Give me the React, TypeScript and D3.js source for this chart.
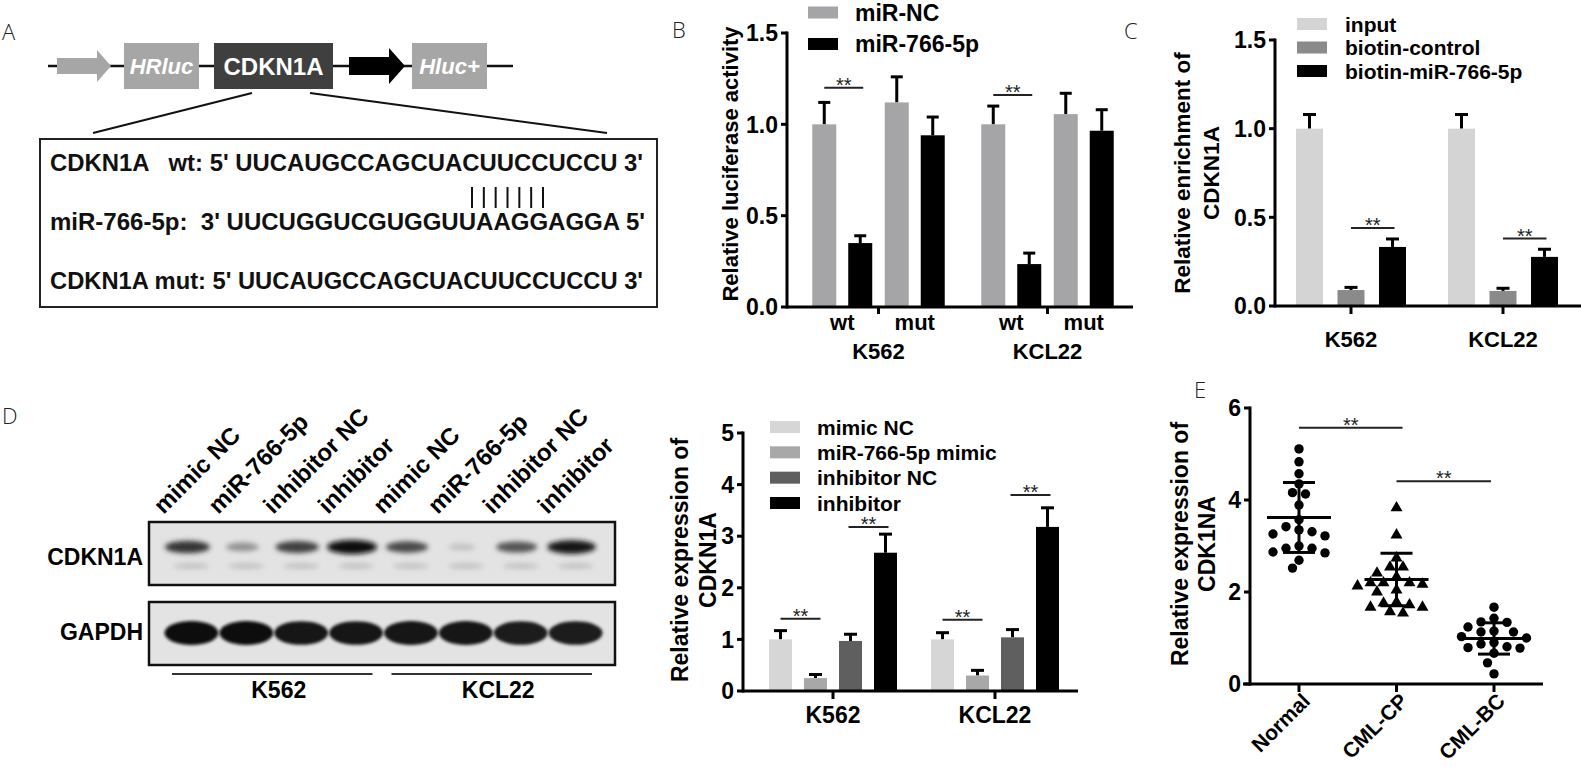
import React from "react";
import * as d3 from "d3";

const FONT = "'Liberation Sans', Arial, Helvetica, sans-serif";
const NARROW = "'Liberation Sans Narrow', 'Arial Narrow', 'Liberation Sans', Arial, sans-serif";
const PANEL_FONT = "'Open Sans', 'DejaVu Sans', sans-serif";

// ---------- A: reporter construct + sequences
const seqLines = [
  "CDKN1A   wt: 5' UUCAUGCCAGCUACUUCCUCCU 3'",
  "miR-766-5p:  3' UUCUGGUCGUGGUUAAGGAGGA 5'",
  "CDKN1A mut: 5' UUCAUGCCAGCUACUUCCUCCU 3'",
];
const seedPairs = 7;

// ---------- B: luciferase reporter
const lucCells = ["K562", "KCL22"];
const lucSites = ["wt", "mut"];
const lucSeries = ["miR-NC", "miR-766-5p"];
// order: K562 wt, K562 mut, KCL22 wt, KCL22 mut
const lucNC = [1.0, 1.12, 1.0, 1.056];
const lucNCErr = [0.12, 0.14, 0.1, 0.114];
const lucMiR = [0.35, 0.94, 0.235, 0.965];
const lucMiRErr = [0.04, 0.1, 0.06, 0.115];
const lucSigLevel = [1.2, 1.16];
const lucTicks = [0, 0.5, 1.0, 1.5];

// ---------- C: biotin pull-down
const pullCells = ["K562", "KCL22"];
const pullSeries = ["input", "biotin-control", "biotin-miR-766-5p"];
const pullInput = [1.0, 1.0];
const pullInputErr = [0.08, 0.08];
const pullControl = [0.09, 0.085];
const pullControlErr = [0.015, 0.015];
const pullMiR = [0.333, 0.277];
const pullMiRErr = [0.045, 0.043];
const pullSigLevel = [0.44, 0.38];
const pullTicks = [0, 0.5, 1.0, 1.5];

// ---------- D: western blot + qPCR
const blotLanes = ["mimic NC", "miR-766-5p", "inhibitor NC", "inhibitor", "mimic NC", "miR-766-5p", "inhibitor NC", "inhibitor"];
const blotCells = ["K562", "KCL22"];
const cdkn1aBand = [0.8, 0.35, 0.75, 1.0, 0.7, 0.12, 0.65, 0.95];
const gapdhBand = [1, 1, 0.95, 0.95, 0.97, 0.97, 0.93, 0.93];

const qCells = ["K562", "KCL22"];
const qSeries = ["mimic NC", "miR-766-5p mimic", "inhibitor NC", "inhibitor"];
const qMimicNC = [1.0, 1.0];
const qMimicNCErr = [0.17, 0.13];
const qMiRMimic = [0.25, 0.3];
const qMiRMimicErr = [0.07, 0.1];
const qInhNC = [0.97, 1.04];
const qInhNCErr = [0.13, 0.15];
const qInh = [2.68, 3.18];
const qInhErr = [0.36, 0.37];
const qSigMimic = [1.4, 1.38];
const qSigInh = [3.18, 3.8];
const qTicks = [0, 1, 2, 3, 4, 5];

// ---------- E: clinical samples
const clinGroups = ["Normal", "CML-CP", "CML-BC"];
const normalVals = [5.11, 4.83, 4.57, 4.35, 4.16, 4.13, 3.89, 3.57, 3.42, 3.31, 3.22, 3.26, 3.35, 3.0, 2.95, 2.85, 2.95, 2.87, 2.69, 2.52];
const cpVals = [3.83, 3.24, 2.74, 2.54, 2.54, 2.41, 2.33, 2.2, 2.2, 2.2, 2.17, 2.13, 2.04, 2.0, 1.78, 1.76, 1.72, 1.67, 1.67, 1.57, 1.54];
const bcVals = [1.67, 1.43, 1.35, 1.34, 1.24, 1.15, 1.13, 1.13, 1.03, 1.0, 0.9, 0.87, 0.81, 0.79, 0.78, 0.67, 0.46, 0.22];
const clinMean = [3.62, 2.27, 0.99];
const clinSD = [0.76, 0.57, 0.34];
const clinSig = [5.57, 4.41];
const clinTicks = [0, 2, 4, 6];

const BLACK = "#000";

function PanelLabel({ x, y, t }: { x: number; y: number; t: string }) {
  return (
    <text x={x} y={y} fontFamily={PANEL_FONT} fontWeight={300} fontSize={22} fill="#222">
      {t}
    </text>
  );
}

function Stars({ x1, x2, y }: { x1: number; x2: number; y: number }) {
  return (
    <g>
      <line x1={x1} x2={x2} y1={y} y2={y} stroke="#222" strokeWidth={2} />
      <text x={(x1 + x2) / 2} y={y + 4} textAnchor="middle" fontSize={20} fill="#222">
        **
      </text>
    </g>
  );
}

function ErrBar({ x, y0, y1, w = 12 }: { x: number; y0: number; y1: number; w?: number }) {
  return (
    <g stroke={BLACK} strokeWidth={3}>
      <line x1={x} x2={x} y1={y0} y2={y1} />
      <line x1={x - w / 2} x2={x + w / 2} y1={y1} y2={y1} />
    </g>
  );
}

function YAxis({ y, ticks, x, fmt }: { y: d3.ScaleLinear<number, number>; ticks: number[]; x: number; fmt: (v: number) => string }) {
  const [r0, r1] = y.range();
  return (
    <g>
      <line x1={x} x2={x} y1={r0 + 1.5} y2={r1 - 1.5} stroke={BLACK} strokeWidth={3} />
      {ticks.map((t) => (
        <g key={t}>
          <line x1={x - 6} x2={x} y1={y(t)} y2={y(t)} stroke={BLACK} strokeWidth={3} />
          <text x={x - 9} y={y(t)} dy="0.36em" textAnchor="end" fontWeight="bold" fontSize={23}>
            {fmt(t)}
          </text>
        </g>
      ))}
    </g>
  );
}

function PanelA() {
  const rowY = d3.scalePoint<number>().domain(d3.range(seqLines.length)).range([171, 289]);
  const pairX = d3.scalePoint<number>().domain(d3.range(seedPairs)).range([472, 543]);
  const widths = [593, 595, 593];
  return (
    <g>
      <PanelLabel x={2} y={40} t="A" />
      <line x1={48} x2={513} y1={66} y2={66} stroke="#111" strokeWidth={2.5} />
      <polygon points="57,58 97,58 97,50 111,66 97,82 97,74 57,74" fill="#a6a6a6" />
      <rect x={124} y={43} width={75} height={46} fill="#a6a6a6" />
      <text x={161.5} y={74} textAnchor="middle" fill="#fff" fontWeight="bold" fontStyle="italic" fontSize={22}>
        HRluc
      </text>
      <rect x={214} y={43} width={119} height={46} fill="#3f3f3f" />
      <text x={273.5} y={75} textAnchor="middle" fill="#fff" fontWeight="bold" fontSize={24}>
        CDKN1A
      </text>
      <polygon points="349,57 389,57 389,48 405,66 389,84 389,75 349,75" fill="#000" />
      <rect x={412} y={43} width={75} height={46} fill="#a6a6a6" />
      <text x={449.5} y={74} textAnchor="middle" fill="#fff" fontWeight="bold" fontStyle="italic" fontSize={22}>
        Hluc+
      </text>
      <line x1={252} y1={93} x2={93} y2={133} stroke="#111" strokeWidth={2} />
      <line x1={310} y1={93} x2={607} y2={133} stroke="#111" strokeWidth={2} />
      <rect x={40} y={139} width={617} height={168} fill="#fff" stroke="#222" strokeWidth={2} />
      {seqLines.map((s, i) => (
        <text
          key={i}
          x={50}
          y={rowY(i)}
          fontFamily={NARROW}
          fontWeight="bold"
          fontSize={24}
          textLength={widths[i]}
          lengthAdjust="spacingAndGlyphs"
          style={{ whiteSpace: "pre" }}
          fill="#111"
        >
          {s}
        </text>
      ))}
      {d3.range(seedPairs).map((i) => (
        <line key={i} x1={pairX(i)} x2={pairX(i)} y1={187} y2={208} stroke="#111" strokeWidth={2} />
      ))}
    </g>
  );
}

function PanelB() {
  const y = d3.scaleLinear().domain([0, 1.5]).range([307, 33]);
  const gx = d3.scaleBand().domain(lucCells).range([794, 1132]);
  const sx = d3.scaleBand().domain(lucSites).range([12, gx.bandwidth() - 12]);
  const bx = d3.scaleBand().domain(lucSeries).range([0, sx.bandwidth()]).paddingInner(0.333).paddingOuter(0.174);
  const colors = d3.scaleOrdinal<string>().domain(lucSeries).range(["#a5a5a7", "#000"]);
  const vals = [lucNC, lucMiR];
  const errs = [lucNCErr, lucMiRErr];
  const legendY = d3.scalePoint().domain(lucSeries).range([12.5, 44]);
  return (
    <g>
      <PanelLabel x={672} y={38} t="B" />
      {lucCells.map((c, ci) =>
        lucSites.map((s, si) =>
          lucSeries.map((ser, k) => {
            const idx = ci * 2 + si;
            const x0 = (gx(c) ?? 0) + (sx(s) ?? 0) + (bx(ser) ?? 0);
            const v = vals[k][idx];
            const cx = x0 + bx.bandwidth() / 2;
            return (
              <g key={`${c}${s}${ser}`}>
                <ErrBar x={cx} y0={y(v)} y1={y(v + errs[k][idx])} />
                <rect x={x0} y={y(v)} width={bx.bandwidth()} height={y(0) - y(v)} fill={colors(ser)} />
              </g>
            );
          })
        )
      )}
      {lucCells.map((c, ci) => {
        const base = (gx(c) ?? 0) + (sx("wt") ?? 0);
        const a = base + (bx(lucSeries[0]) ?? 0) + bx.bandwidth() / 2;
        const b = base + (bx(lucSeries[1]) ?? 0) + bx.bandwidth() / 2 + 3;
        return <Stars key={c} x1={a} x2={b} y={y(lucSigLevel[ci])} />;
      })}
      <YAxis y={y} ticks={lucTicks} x={787} fmt={d3.format(".1f")} />
      <line x1={787} x2={1133} y1={y(0)} y2={y(0)} stroke={BLACK} strokeWidth={3} />
      {lucCells.map((c) => {
        const cx = (gx(c) ?? 0) + gx.bandwidth() / 2;
        return (
          <g key={c}>
            <line x1={cx} x2={cx} y1={y(0)} y2={y(0) + 7} stroke={BLACK} strokeWidth={3} />
            {lucSites.map((s) => (
              <text key={s} x={(gx(c) ?? 0) + (sx(s) ?? 0) + sx.bandwidth() / 2} y={330} textAnchor="middle" fontWeight="bold" fontSize={22}>
                {s}
              </text>
            ))}
            <text x={cx} y={359} textAnchor="middle" fontWeight="bold" fontSize={22}>
              {c}
            </text>
          </g>
        );
      })}
      <text transform="translate(730,164) rotate(-90)" textAnchor="middle" dy="0.36em" fontWeight="bold" fontSize={22}>
        Relative luciferase activity
      </text>
      {lucSeries.map((s) => (
        <g key={s}>
          <rect x={808} y={(legendY(s) ?? 0) - 6} width={30} height={12} fill={colors(s)} />
          <text x={855} y={legendY(s)} dy="0.36em" fontWeight="bold" fontSize={23}>
            {s}
          </text>
        </g>
      ))}
    </g>
  );
}

function PanelC() {
  const y = d3.scaleLinear().domain([0, 1.5]).range([306, 40]);
  const gx = d3.scaleBand().domain(pullCells).range([1275, 1579]);
  const bx = d3.scaleBand().domain(pullSeries).range([0, gx.bandwidth()]).paddingInner(0.35).paddingOuter(0.506);
  const colors = d3.scaleOrdinal<string>().domain(pullSeries).range(["#d4d4d4", "#8a8a8a", "#000"]);
  const vals = [pullInput, pullControl, pullMiR];
  const errs = [pullInputErr, pullControlErr, pullMiRErr];
  const legendY = d3.scalePoint().domain(pullSeries).range([24, 71]);
  return (
    <g>
      <PanelLabel x={1124} y={39} t="C" />
      {pullCells.map((c, ci) =>
        pullSeries.map((s, k) => {
          const x0 = (gx(c) ?? 0) + (bx(s) ?? 0);
          const v = vals[k][ci];
          const cx = x0 + bx.bandwidth() / 2;
          return (
            <g key={c + s}>
              <ErrBar x={cx} y0={y(v)} y1={y(v + errs[k][ci])} w={13} />
              <rect x={x0} y={y(v)} width={bx.bandwidth()} height={y(0) - y(v)} fill={colors(s)} />
            </g>
          );
        })
      )}
      {pullCells.map((c, ci) => {
        const a = (gx(c) ?? 0) + (bx(pullSeries[1]) ?? 0) + bx.bandwidth() / 2;
        const b = (gx(c) ?? 0) + (bx(pullSeries[2]) ?? 0) + bx.bandwidth() / 2 + 2;
        return <Stars key={c} x1={a} x2={b} y={y(pullSigLevel[ci])} />;
      })}
      <YAxis y={y} ticks={pullTicks} x={1275} fmt={d3.format(".1f")} />
      <line x1={1275} x2={1581} y1={y(0)} y2={y(0)} stroke={BLACK} strokeWidth={3} />
      {pullCells.map((c) => {
        const cx = (gx(c) ?? 0) + gx.bandwidth() / 2;
        return (
          <g key={c}>
            <line x1={cx} x2={cx} y1={y(0)} y2={y(0) + 8} stroke={BLACK} strokeWidth={3} />
            <text x={cx} y={347} textAnchor="middle" fontWeight="bold" fontSize={22}>
              {c}
            </text>
          </g>
        );
      })}
      <g transform="translate(1196,173) rotate(-90)" fontSize={22.5} fontWeight="bold" textAnchor="middle">
        <text y={-14} dy="0.36em">Relative enrichment of</text>
        <text y={15} dy="0.36em">CDKN1A</text>
      </g>
      {pullSeries.map((s) => (
        <g key={s}>
          <rect x={1297} y={(legendY(s) ?? 0) - 6} width={30} height={12} fill={colors(s)} />
          <text x={1345} y={legendY(s)} dy="0.36em" fontWeight="bold" fontSize={21}>
            {s}
          </text>
        </g>
      ))}
    </g>
  );
}

function Blot() {
  const lane = d3.scaleBand<number>().domain(d3.range(blotLanes.length)).range([164, 603]);
  const shade = d3.interpolateRgb("#dcdcdc", "#0c0c0c");
  const cellX = d3.scaleBand().domain(blotCells).range([164, 603]);
  return (
    <g>
      <defs>
        <filter id="bandBlur" x="-50%" y="-150%" width="200%" height="400%">
          <feGaussianBlur stdDeviation="2.4" />
        </filter>
        <filter id="gBlur" x="-20%" y="-50%" width="140%" height="200%">
          <feGaussianBlur stdDeviation="1.6" />
        </filter>
        <clipPath id="blot1">
          <rect x={149} y={522} width={466} height={63} />
        </clipPath>
        <clipPath id="blot2">
          <rect x={149} y={602} width={466} height={63} />
        </clipPath>
      </defs>
      <PanelLabel x={2} y={424} t="D" />
      {blotLanes.map((l, i) => (
        <text
          key={i}
          transform={`translate(${(lane(i) ?? 0) + lane.bandwidth() / 2 - 28},515) rotate(-45)`}
          fontWeight="bold"
          fontSize={24}
        >
          {l}
        </text>
      ))}
      <rect x={149} y={522} width={466} height={63} fill="#e3e3e3" />
      <g clipPath="url(#blot1)">
        {cdkn1aBand.map((v, i) => (
          <ellipse
            key={i}
            cx={(lane(i) ?? 0) + lane.bandwidth() / 2 - 4}
            cy={547}
            rx={12 + 13 * v}
            ry={3 + 4 * v}
            fill={shade(v)}
            filter="url(#bandBlur)"
          />
        ))}
        {cdkn1aBand.map((v, i) => (
          <ellipse
            key={"f" + i}
            cx={(lane(i) ?? 0) + lane.bandwidth() / 2}
            cy={566}
            rx={18}
            ry={3}
            fill={shade(0.12)}
            filter="url(#bandBlur)"
          />
        ))}
      </g>
      <rect x={149} y={522} width={466} height={63} fill="none" stroke="#111" strokeWidth={2.5} />
      <text x={143} y={565} textAnchor="end" fontWeight="bold" fontSize={23}>
        CDKN1A
      </text>
      <rect x={149} y={602} width={466} height={63} fill="#e3e3e3" />
      <g clipPath="url(#blot2)">
        {gapdhBand.map((v, i) => (
          <ellipse
            key={i}
            cx={(lane(i) ?? 0) + lane.bandwidth() / 2}
            cy={633}
            rx={27}
            ry={9 + 3 * v}
            fill={shade(v)}
            filter="url(#gBlur)"
          />
        ))}
      </g>
      <rect x={149} y={602} width={466} height={63} fill="none" stroke="#111" strokeWidth={2.5} />
      <text x={143} y={640} textAnchor="end" fontWeight="bold" fontSize={23}>
        GAPDH
      </text>
      {blotCells.map((c) => {
        const x0 = cellX(c) ?? 0;
        const w = cellX.bandwidth();
        return (
          <g key={c}>
            <line x1={x0 + 8} x2={x0 + w - 11} y1={674} y2={674} stroke="#333" strokeWidth={1.8} />
            <text x={x0 + w / 2 + 5} y={698} textAnchor="middle" fontWeight="bold" fontSize={23}>
              {c}
            </text>
          </g>
        );
      })}
    </g>
  );
}

function PanelDChart() {
  const y = d3.scaleLinear().domain([0, 5]).range([691, 433]);
  const gx = d3.scaleBand().domain(qCells).range([752, 1076]);
  const bx = d3.scaleBand().domain(qSeries).range([0, gx.bandwidth()]).paddingInner(0.343).paddingOuter(0.486);
  const colors = d3.scaleOrdinal<string>().domain(qSeries).range(["#d6d6d6", "#a8a8a8", "#5f5f5f", "#000"]);
  const vals = [qMimicNC, qMiRMimic, qInhNC, qInh];
  const errs = [qMimicNCErr, qMiRMimicErr, qInhNCErr, qInhErr];
  const legendY = d3.scalePoint().domain(qSeries).range([427, 503]);
  const center = (c: string, s: string) => (gx(c) ?? 0) + (bx(s) ?? 0) + bx.bandwidth() / 2;
  return (
    <g>
      {qCells.map((c, ci) =>
        qSeries.map((s, k) => {
          const x0 = (gx(c) ?? 0) + (bx(s) ?? 0);
          const v = vals[k][ci];
          return (
            <g key={c + s}>
              <ErrBar x={x0 + bx.bandwidth() / 2} y0={y(v)} y1={y(v + errs[k][ci])} w={13} />
              <rect x={x0} y={y(v)} width={bx.bandwidth()} height={y(0) - y(v)} fill={colors(s)} />
            </g>
          );
        })
      )}
      {qCells.map((c, ci) => (
        <g key={c}>
          <Stars x1={center(c, qSeries[0])} x2={center(c, qSeries[1]) + 5} y={y(qSigMimic[ci])} />
          <Stars x1={center(c, qSeries[2]) - 2} x2={center(c, qSeries[3]) + 3} y={y(qSigInh[ci])} />
        </g>
      ))}
      <YAxis y={y} ticks={qTicks} x={743} fmt={d3.format("d")} />
      <line x1={743} x2={1078} y1={y(0)} y2={y(0)} stroke={BLACK} strokeWidth={3} />
      {qCells.map((c) => {
        const cx = (gx(c) ?? 0) + gx.bandwidth() / 2;
        return (
          <g key={c}>
            <line x1={cx} x2={cx} y1={y(0)} y2={y(0) + 8} stroke={BLACK} strokeWidth={3} />
            <text x={cx} y={723} textAnchor="middle" fontWeight="bold" fontSize={23}>
              {c}
            </text>
          </g>
        );
      })}
      <g transform="translate(694,560) rotate(-90)" fontSize={23} fontWeight="bold" textAnchor="middle">
        <text y={-14} dy="0.36em">Relative expression of</text>
        <text y={14} dy="0.36em">CDKN1A</text>
      </g>
      {qSeries.map((s) => (
        <g key={s}>
          <rect x={770} y={(legendY(s) ?? 0) - 6} width={30} height={12} fill={colors(s)} />
          <text x={817} y={legendY(s)} dy="0.36em" fontWeight="bold" fontSize={21}>
            {s}
          </text>
        </g>
      ))}
    </g>
  );
}

// simple dodge layout: highest values first, nearest free horizontal slot
function dodge(values: number[], y: (v: number) => number, step: number, minDist: number) {
  const order = d3.range(values.length).sort((a, b) => values[b] - values[a]);
  const placed: { x: number; y: number }[] = [];
  const out: number[] = new Array(values.length).fill(0);
  for (const i of order) {
    const py = y(values[i]);
    for (let k = 0; k < 60; k++) {
      const off = k === 0 ? 0 : (k % 2 ? -1 : 1) * Math.ceil(k / 2) * step;
      if (placed.every((p) => Math.hypot(p.x - off, p.y - py) >= minDist)) {
        placed.push({ x: off, y: py });
        out[i] = off;
        break;
      }
    }
  }
  return out;
}

function PanelE() {
  const y = d3.scaleLinear().domain([0, 6]).range([684, 408]);
  const x = d3.scalePoint().domain(clinGroups).range([1299, 1494]);
  const groups = [normalVals, cpVals, bcVals];
  const tri = d3.symbol(d3.symbolTriangle, 62)() ?? "";
  return (
    <g>
      <PanelLabel x={1194} y={398} t="E" />
      {groups.map((vals, gi) => {
        const offs = dodge(vals, y, 6.5, 10);
        const cx = x(clinGroups[gi]) ?? 0;
        return (
          <g key={gi}>
            {vals.map((v, i) =>
              gi === 1 ? (
                <path key={i} d={tri} transform={`translate(${cx + offs[i]},${y(v)})`} fill="#000" />
              ) : (
                <circle key={i} cx={cx + offs[i]} cy={y(v)} r={4.7} fill="#000" />
              )
            )}
          </g>
        );
      })}
      {clinGroups.map((g, gi) => {
        const cx = x(g) ?? 0;
        const m = clinMean[gi];
        const s = clinSD[gi];
        return (
          <g key={g} stroke={BLACK} strokeWidth={3}>
            <line x1={cx - 32} x2={cx + 32} y1={y(m)} y2={y(m)} />
            <line x1={cx} x2={cx} y1={y(m - s)} y2={y(m + s)} />
            <line x1={cx - 16} x2={cx + 16} y1={y(m - s)} y2={y(m - s)} />
            <line x1={cx - 16} x2={cx + 16} y1={y(m + s)} y2={y(m + s)} />
          </g>
        );
      })}
      <Stars x1={x(clinGroups[0]) ?? 0} x2={(x(clinGroups[1]) ?? 0) + 6} y={y(clinSig[0])} />
      <Stars x1={x(clinGroups[1]) ?? 0} x2={(x(clinGroups[2]) ?? 0) - 3} y={y(clinSig[1])} />
      <YAxis y={y} ticks={clinTicks} x={1250} fmt={d3.format("d")} />
      <line x1={1243} x2={1543} y1={y(0)} y2={y(0)} stroke={BLACK} strokeWidth={3} />
      {clinGroups.map((g) => {
        const cx = x(g) ?? 0;
        return (
          <g key={g}>
            <line x1={cx} x2={cx} y1={y(0)} y2={y(0) + 8} stroke={BLACK} strokeWidth={3} />
            <text transform={`translate(${cx + 7},697) rotate(-45)`} textAnchor="end" dy="0.36em" fontWeight="bold" fontSize={21}>
              {g}
            </text>
          </g>
        );
      })}
      <g transform="translate(1194,544) rotate(-90)" fontSize={23} fontWeight="bold" textAnchor="middle">
        <text y={-14} dy="0.36em">Relative expression of</text>
        <text y={13} dy="0.36em">CDK1NA</text>
      </g>
    </g>
  );
}

export default function App() {
  return (
    <svg
      width={1581}
      height={770}
      fontFamily={FONT}
      style={{ position: "absolute", left: 0, top: 0, background: "#fff" }}
    >
      <rect width={1581} height={770} fill="#fff" />
      <PanelA />
      <PanelB />
      <PanelC />
      <Blot />
      <PanelDChart />
      <PanelE />
    </svg>
  );
}
